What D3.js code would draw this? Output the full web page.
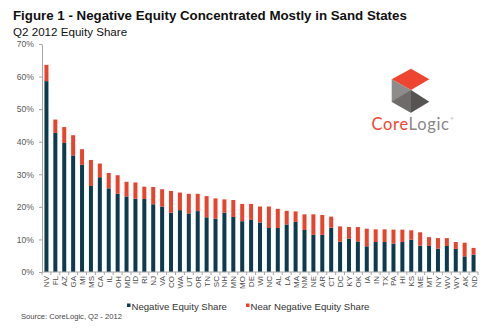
<!DOCTYPE html>
<html>
<head>
<meta charset="utf-8">
<script src="https://cdn.jsdelivr.net/npm/d3@7"></script>
<style>
  body { margin: 0; background: #fff; }
  svg { display: block; font-family: "Liberation Sans", Arial, sans-serif; }
</style>
</head>
<body>
<svg width="500" height="332"></svg>
<script>
// estados ordenados pela participação total
const estados = ["NV","FL","AZ","GA","MI","MS","CA","IL","OH","MD","ID","RI","NJ","VA","CO","WA",
  "UT","OR","TN","SC","NH","MN","MO","DE","WI","NC","AL","LA","MA","NM","NE","AR","CT","DC",
  "KY","OK","IA","IN","TX","PA","HI","KS","ME","MT","NY","WV","WY","AK","ND"];

// % com patrimônio negativo
const negativo = [58.6,42.7,39.6,35.8,32.9,26.4,29.1,25.7,24.0,23.2,22.5,22.4,20.8,20.1,18.2,19.0,
  18.0,18.7,16.8,16.4,18.2,16.9,15.6,16.0,15.2,13.5,13.5,14.6,15.4,12.9,11.4,11.4,13.6,9.3,
  10.2,9.4,7.9,9.2,9.2,8.7,9.2,9.9,8.1,8.0,7.2,8.0,7.1,4.8,5.3];

// % quase negativo (empilhado em cima)
const quaseNegativo = [5.0,4.1,4.9,6.2,4.8,8.0,4.2,4.7,5.7,4.5,5.0,3.8,5.3,5.3,6.7,5.4,
  6.0,5.3,6.5,6.2,4.1,5.2,5.3,4.9,4.9,6.6,5.9,4.2,3.2,4.8,6.3,6.1,3.4,4.7,
  3.6,4.4,5.4,3.9,3.9,4.3,3.8,2.9,4.1,2.7,3.2,2.4,2.1,4.2,2.1];

const ticksY = [0,10,20,30,40,50,60,70];
const series = ["Negative Equity Share", "Near Negative Equity Share"];

const corNeg = "#0c3b4f";
const corQuase = "#e8432c";
const corEixo = "#a6a6a6";
const corTexto = "#595959";

const svg = d3.select("svg");

const dados = estados.map((e, i) => ({estado: e, neg: negativo[i], quase: quaseNegativo[i]}));

const xScale = d3.scaleBand()
    .domain(estados)
    .range([42, 478])
    .paddingInner(0.55)
    .paddingOuter(0.275);

const yScale = d3.scaleLinear()
    .domain([0, 70])
    .range([272, 44]);

// títulos
svg.append("text")
    .attr("x", 13).attr("y", 20)
    .attr("font-size", 13.3).attr("font-weight", "bold").attr("fill", "#111")
    .text("Figure 1 - Negative Equity Concentrated Mostly in Sand States");

svg.append("text")
    .attr("x", 13).attr("y", 36)
    .attr("font-size", 11.6).attr("fill", "#111")
    .text("Q2 2012 Equity Share");

// eixo Y
const eixoY = svg.append("g")
    .attr("transform", "translate(42,0)")
    .call(d3.axisLeft(yScale).tickValues(ticksY).tickFormat(d => d + "%").tickSize(3).tickSizeOuter(0));
eixoY.select(".domain").attr("stroke", corEixo);
eixoY.selectAll(".tick line").attr("stroke", corEixo);
eixoY.selectAll(".tick text")
    .attr("fill", corTexto).attr("font-size", 8.6)
    .attr("font-family", "Liberation Sans, Arial, sans-serif")
    .attr("x", -8);

// barras empilhadas
const barras = svg.append("g");
barras.selectAll(".neg")
    .data(dados).enter().append("rect")
    .attr("class", "neg")
    .attr("x", d => xScale(d.estado))
    .attr("width", xScale.bandwidth())
    .attr("y", d => yScale(d.neg))
    .attr("height", d => yScale(0) - yScale(d.neg))
    .attr("fill", corNeg);

barras.selectAll(".quase")
    .data(dados).enter().append("rect")
    .attr("class", "quase")
    .attr("x", d => xScale(d.estado))
    .attr("width", xScale.bandwidth())
    .attr("y", d => yScale(d.neg + d.quase))
    .attr("height", d => yScale(d.neg) - yScale(d.neg + d.quase))
    .attr("fill", corQuase);

// eixo X com marcas entre as categorias
const passo = xScale.step();
const limites = estados.map(e => xScale(e) + xScale.bandwidth() / 2 - passo / 2)
    .concat([xScale(estados[estados.length - 1]) + xScale.bandwidth() / 2 + passo / 2]);

svg.append("line")
    .attr("x1", 42).attr("x2", limites[limites.length - 1])
    .attr("y1", yScale(0)).attr("y2", yScale(0))
    .attr("stroke", corEixo);

svg.selectAll(".marcaX")
    .data(limites).enter().append("line")
    .attr("class", "marcaX")
    .attr("x1", d => d).attr("x2", d => d)
    .attr("y1", yScale(0)).attr("y2", yScale(0) + 3)
    .attr("stroke", corEixo);

svg.selectAll(".rotuloX")
    .data(estados).enter().append("text")
    .attr("class", "rotuloX")
    .attr("transform", d => `translate(${xScale(d) + xScale.bandwidth() / 2 + 3},276) rotate(-90)`)
    .attr("text-anchor", "end")
    .attr("font-size", 8)
    .attr("fill", "#4a4a4a")
    .text(d => d);

// legenda
const legenda = svg.append("g");
const posLegenda = [127, 246];
series.forEach((s, i) => {
    legenda.append("rect")
        .attr("x", posLegenda[i]).attr("y", 303.5)
        .attr("width", 3.5).attr("height", 3.5)
        .attr("fill", i === 0 ? corNeg : corQuase);
    legenda.append("text")
        .attr("x", posLegenda[i] + 4.5).attr("y", 309.5)
        .attr("font-size", 9.6).attr("fill", "#333")
        .text(s);
});

svg.append("text")
    .attr("x", 21).attr("y", 319)
    .attr("font-size", 7.6).attr("fill", "#444")
    .text("Source: CoreLogic, Q2 - 2012");

// logo
const logo = svg.append("g");
logo.append("path").attr("d", "M391.7,79.3 L411,68.7 L429.3,79.3 L411,90 Z").attr("fill", "#ee4530");
logo.append("path").attr("d", "M391.7,79.3 L411,90 L411,112.7 L391.7,101.7 Z").attr("fill", "#8e8b8b");
logo.append("path").attr("d", "M391.7,101.7 L411,90 L411,112.7 Z").attr("fill", "#6f6b6b");
logo.append("path").attr("d", "M411,90 L429.3,101.7 L411,112.7 Z").attr("fill", "#575353");

const marca = logo.append("text")
    .attr("x", 371.5).attr("y", 129.5)
    .attr("font-size", 16.5)
    .attr("textLength", 77.5)
    .attr("lengthAdjust", "spacing")
    .attr("font-family", "Lato, 'Open Sans', sans-serif");
marca.append("tspan").attr("fill", "#ee4530").text("Core");
marca.append("tspan").attr("fill", "#8a8787").text("Logic");
logo.append("text")
    .attr("x", 450.5).attr("y", 120)
    .attr("font-size", 4).attr("fill", "#8a8787")
    .text("®");
</script>
</body>
</html>
